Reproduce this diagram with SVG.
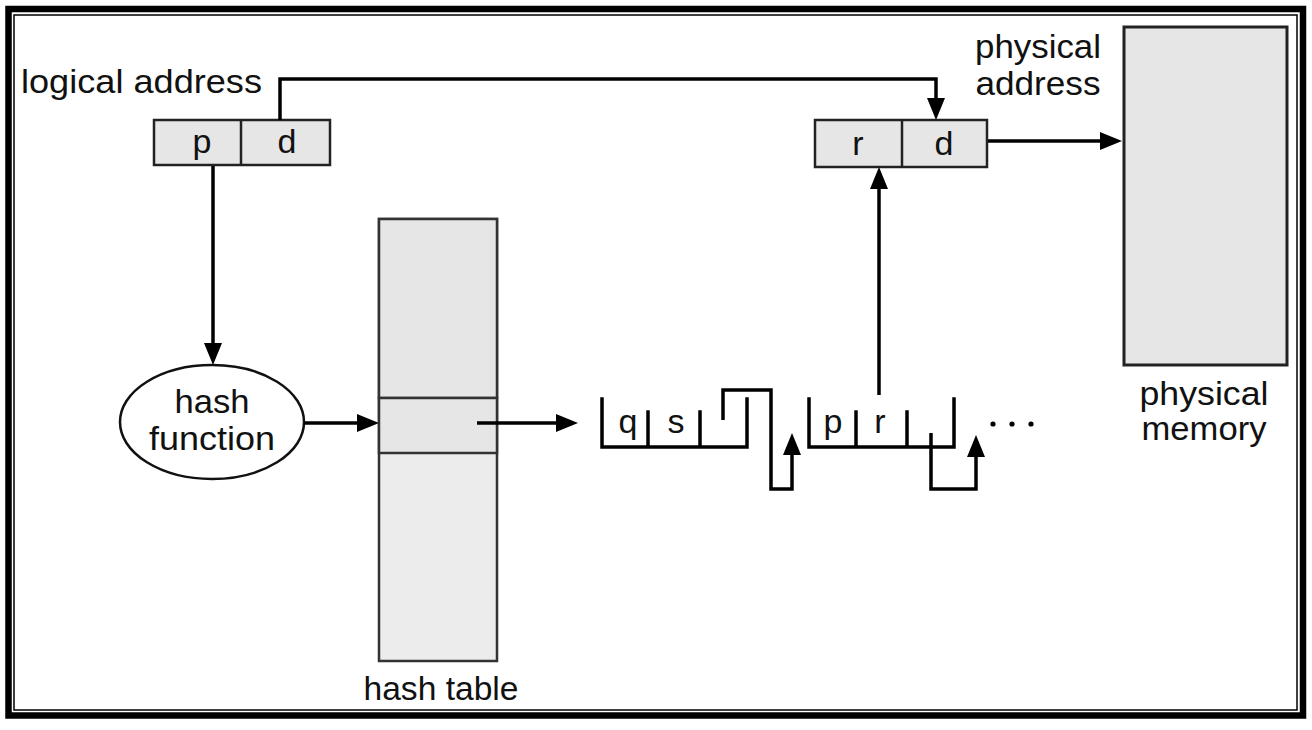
<svg xmlns="http://www.w3.org/2000/svg" width="1312" height="730" viewBox="0 0 1312 730">
<defs>
<marker id="ah" markerWidth="22" markerHeight="18" viewBox="0 0 22 18" refX="12" refY="9" orient="auto" markerUnits="userSpaceOnUse">
<path d="M0,0 L22,9 L0,18 Z" fill="#000"/>
</marker>
<style>
.t{font-family:"Liberation Sans",Arial,sans-serif;font-size:34px;fill:#111}
.c{text-anchor:middle}
.box{fill:#e6e6e6;stroke:#222;stroke-width:2.5}
.arr{fill:none;stroke:#000;stroke-width:3.5}
.ch{fill:none;stroke:#000;stroke-width:3.5;stroke-linecap:square}
</style>
</defs>
<rect x="0" y="0" width="1312" height="730" fill="#fff"/>
<g id="frame">
<rect x="8.5" y="9" width="1294.5" height="706.5" fill="none" stroke="#000" stroke-width="6.5"/>
<rect x="14" y="15" width="1283" height="695" fill="none" stroke="#000" stroke-width="1.5"/>
</g>
<g id="logical-address">
<text class="t" x="21" y="93" textLength="241" lengthAdjust="spacingAndGlyphs">logical address</text>
<rect class="box" x="154" y="120" width="176" height="45"/>
<line x1="241" y1="120" x2="241" y2="165" stroke="#222" stroke-width="2.5"/>
<text class="t c" x="202" y="153">p</text>
<text class="t c" x="287" y="153">d</text>
</g>
<g id="physical-address">
<text class="t c" x="1038" y="58" textLength="126" lengthAdjust="spacingAndGlyphs">physical</text>
<text class="t c" x="1038" y="95" textLength="125" lengthAdjust="spacingAndGlyphs">address</text>
<rect class="box" x="815" y="120" width="172" height="47"/>
<line x1="902" y1="120" x2="902" y2="167" stroke="#222" stroke-width="2.5"/>
<text class="t c" x="858" y="155">r</text>
<text class="t c" x="944" y="155">d</text>
</g>
<g id="physical-memory">
<rect x="1124" y="27" width="163" height="338" fill="#e6e6e6" stroke="#222" stroke-width="3"/>
<text class="t c" x="1204" y="405" textLength="129" lengthAdjust="spacingAndGlyphs">physical</text>
<text class="t c" x="1204" y="440" textLength="125" lengthAdjust="spacingAndGlyphs">memory</text>
</g>
<g id="hash-function">
<ellipse cx="212" cy="422" rx="92" ry="57" fill="#fff" stroke="#111" stroke-width="2.5"/>
<text class="t c" x="212" y="413" textLength="75" lengthAdjust="spacingAndGlyphs">hash</text>
<text class="t c" x="212" y="450" textLength="126" lengthAdjust="spacingAndGlyphs">function</text>
</g>
<g id="hash-table">
<rect x="379" y="219" width="118" height="442" fill="#ececec" stroke="#333" stroke-width="2.5"/>
<rect x="379" y="219" width="118" height="179" fill="#e6e6e6" stroke="#333" stroke-width="2.5"/>
<rect x="379" y="398" width="118" height="55" fill="#e6e6e6" stroke="#333" stroke-width="2.5"/>
<text class="t c" x="441" y="700" textLength="155" lengthAdjust="spacingAndGlyphs">hash table</text>
</g>
<g id="node-qs">
<path class="ch" d="M602,399 V447 H747 V399 M648,412 V447 M700,412 V447"/>
<text class="t c" x="628" y="433">q</text>
<text class="t c" x="676" y="433">s</text>
</g>
<g id="node-pr">
<path class="ch" d="M809,399 V447 H954 V399 M856,412 V447 M907,412 V447"/>
<text class="t c" x="833" y="433">p</text>
<text class="t c" x="880" y="433">r</text>
</g>
<g id="ellipsis" fill="#000">
<circle cx="993" cy="424" r="2.6"/>
<circle cx="1012" cy="424" r="2.6"/>
<circle cx="1031" cy="424" r="2.6"/>
</g>
<g id="connectors">
<path class="arr" d="M280,120 V79 H936 V110" marker-end="url(#ah)"/>
<path class="arr" d="M213,166 V355" marker-end="url(#ah)"/>
<path class="arr" d="M304,423 H369" marker-end="url(#ah)"/>
<path class="arr" d="M477,423 H568" marker-end="url(#ah)"/>
<path class="arr" d="M879,395 V177" marker-end="url(#ah)"/>
<path class="arr" d="M988,141 H1112" marker-end="url(#ah)"/>
<path class="arr" d="M723,420 V390 H771 V489 H792 V443" marker-end="url(#ah)"/>
<path class="arr" d="M931,433 V489 H976 V445" marker-end="url(#ah)"/>
</g>
</svg>
